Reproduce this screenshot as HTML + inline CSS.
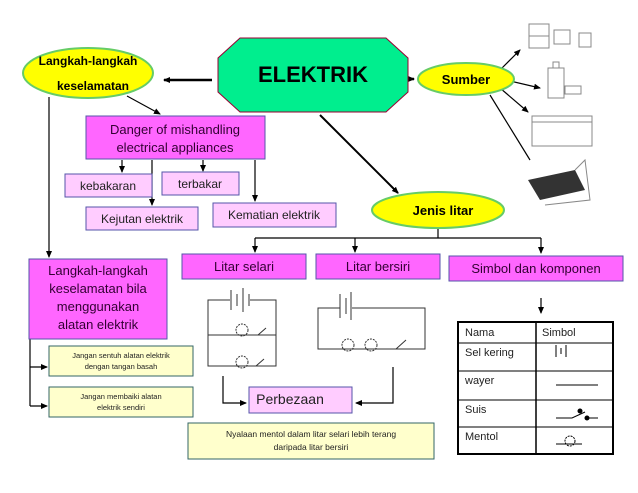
<!DOCTYPE html>
<html><head><meta charset="utf-8"><style>
html,body{margin:0;padding:0;background:#fff}
svg{display:block}
text{font-family:"Liberation Sans",sans-serif}
</style></head><body>
<svg width="638" height="493" viewBox="0 0 638 493" xmlns="http://www.w3.org/2000/svg">
<defs>
<marker id="a" markerWidth="8" markerHeight="8" refX="6" refY="4" orient="auto" markerUnits="userSpaceOnUse"><path d="M0,1 L7,4 L0,7 z" fill="#000"/></marker>
</defs>
<g stroke="#000" stroke-width="1.2" fill="none">
<!-- top arrows -->
<line x1="212" y1="80" x2="164" y2="80" stroke-width="2.5" marker-end="url(#a)"/>
<line x1="408" y1="79" x2="414" y2="79" stroke-width="2.5" marker-end="url(#a)"/>
<line x1="127" y1="96" x2="160" y2="114" marker-end="url(#a)"/>
<line x1="320" y1="115" x2="398" y2="193" stroke-width="2" marker-end="url(#a)"/>
<!-- danger arrows -->
<line x1="122" y1="160" x2="122" y2="172" marker-end="url(#a)"/>
<line x1="152" y1="160" x2="152" y2="205" marker-end="url(#a)"/>
<line x1="203" y1="160" x2="203" y2="171" marker-end="url(#a)"/>
<line x1="255" y1="160" x2="255" y2="201" marker-end="url(#a)"/>
<!-- left line -->
<line x1="49" y1="97" x2="49" y2="257" marker-end="url(#a)"/>
<polyline points="30,339 30,406"/>
<line x1="30" y1="367" x2="47" y2="367" marker-end="url(#a)"/>
<line x1="30" y1="406" x2="47" y2="406" marker-end="url(#a)"/>
<!-- jenis litar -->
<line x1="438" y1="228" x2="438" y2="238"/>
<line x1="255" y1="238" x2="541" y2="238"/>
<line x1="255" y1="238" x2="255" y2="252" marker-end="url(#a)"/>
<line x1="355" y1="238" x2="355" y2="252" marker-end="url(#a)"/>
<line x1="541" y1="238" x2="541" y2="253" marker-end="url(#a)"/>
<line x1="541" y1="298" x2="541" y2="313" marker-end="url(#a)"/>
<!-- perbezaan -->
<polyline points="223,376 223,403 246,403" marker-end="url(#a)"/>
<polyline points="393,367 393,403 356,403" marker-end="url(#a)"/>
<!-- sumber lines -->
<line x1="500" y1="70" x2="520" y2="50" marker-end="url(#a)"/>
<line x1="506" y1="80" x2="540" y2="88" marker-end="url(#a)"/>
<line x1="500" y1="88" x2="528" y2="112" marker-end="url(#a)"/>
<line x1="490" y1="95" x2="530" y2="160"/>
</g>
<!-- ELEKTRIK -->
<polygon points="240,38 386,38 408,58 408,92 386,112 240,112 218,92 218,58" fill="#00ee8e" stroke="#990033" stroke-width="1"/>
<text x="313" y="82" font-size="22" font-weight="bold" text-anchor="middle">ELEKTRIK</text>
<!-- ellipses -->
<ellipse cx="88" cy="73" rx="65" ry="25" fill="#ffff00" stroke="#66cc66" stroke-width="2"/>
<text x="88" y="65" font-size="12" font-weight="bold" text-anchor="middle">Langkah-langkah</text>
<text x="93" y="90" font-size="12" font-weight="bold" text-anchor="middle">keselamatan</text>
<ellipse cx="466" cy="79" rx="48" ry="16" fill="#ffff00" stroke="#66cc66" stroke-width="2"/>
<text x="466" y="84" font-size="13" font-weight="bold" text-anchor="middle">Sumber</text>
<ellipse cx="438" cy="210" rx="66" ry="18" fill="#ffff00" stroke="#66cc66" stroke-width="2"/>
<text x="443" y="215" font-size="13" font-weight="bold" text-anchor="middle">Jenis litar</text>
<!-- magenta boxes -->
<g fill="#ff66ff" stroke="#5555aa" stroke-width="1">
<rect x="86" y="116" width="179" height="43"/>
<rect x="29" y="259" width="138" height="80"/>
<rect x="182" y="254" width="124" height="25"/>
<rect x="316" y="254" width="124" height="25"/>
<rect x="449" y="256" width="174" height="25"/>
</g>
<g font-size="13" fill="#330033" text-anchor="middle">
<text x="175" y="134">Danger of mishandling</text>
<text x="175" y="152">electrical appliances</text>
<text x="98" y="275">Langkah-langkah</text>
<text x="98" y="293">keselamatan bila</text>
<text x="98" y="311">menggunakan</text>
<text x="98" y="329">alatan elektrik</text>
<text x="244" y="271">Litar selari</text>
<text x="378" y="271">Litar bersiri</text>
<text x="536" y="273">Simbol dan komponen</text>
</g>
<!-- light pink -->
<g fill="#ffccff" stroke="#5555aa" stroke-width="1">
<rect x="65" y="174" width="87" height="23"/>
<rect x="162" y="172" width="77" height="23"/>
<rect x="86" y="207" width="112" height="23"/>
<rect x="213" y="203" width="123" height="24"/>
<rect x="249" y="387" width="103" height="26"/>
</g>
<g font-size="12" fill="#222" text-anchor="middle">
<text x="108" y="190">kebakaran</text>
<text x="200" y="188">terbakar</text>
<text x="142" y="223">Kejutan elektrik</text>
<text x="274" y="219">Kematian elektrik</text>
<text x="290" y="404" font-size="14" text-anchor="middle">Perbezaan</text>
</g>
<!-- yellow boxes -->
<g fill="#ffffcc" stroke="#336666" stroke-width="1">
<rect x="49" y="346" width="144" height="30"/>
<rect x="49" y="387" width="144" height="30"/>
<rect x="188" y="423" width="246" height="36"/>
</g>
<g font-size="7.5" fill="#222" text-anchor="middle">
<text x="121" y="358">Jangan sentuh alatan elektrik</text>
<text x="121" y="369">dengan tangan basah</text>
<text x="121" y="399">Jangan membaiki alatan</text>
<text x="121" y="410">elektrik sendiri</text>
<text x="311" y="437" font-size="8.5">Nyalaan mentol dalam litar selari lebih terang</text>
<text x="311" y="450" font-size="8.5">daripada litar bersiri</text>
</g>
<!-- circuits -->
<g stroke="#333" stroke-width="1" fill="none">
<polyline points="230,300 208,300 208,366 276,366 276,300 250,300"/>
<line x1="231" y1="290" x2="231" y2="310"/><line x1="237" y1="294" x2="237" y2="306"/>
<line x1="243" y1="288" x2="243" y2="312"/><line x1="249" y1="294" x2="249" y2="306"/>
<line x1="208" y1="335" x2="276" y2="335"/>
<circle cx="242" cy="330" r="6" stroke-dasharray="2,1"/><circle cx="242" cy="362" r="6" stroke-dasharray="2,1"/>
<line x1="258" y1="335" x2="266" y2="328"/><line x1="256" y1="366" x2="264" y2="359"/>
<polyline points="340,308 318,308 318,349 425,349 425,308 352,308"/>
<line x1="340" y1="294" x2="340" y2="318"/><line x1="346" y1="298" x2="346" y2="314"/>
<line x1="351" y1="292" x2="351" y2="320"/>
<circle cx="348" cy="345" r="6" stroke-dasharray="2,1"/><circle cx="371" cy="345" r="6" stroke-dasharray="2,1"/>
<line x1="396" y1="349" x2="406" y2="340"/>
</g>
<!-- table -->
<g stroke="#000" fill="none">
<rect x="458" y="322" width="155" height="132" stroke-width="2"/>
<line x1="536" y1="322" x2="536" y2="454" stroke-width="1.5"/>
<line x1="458" y1="343" x2="613" y2="343"/>
<line x1="458" y1="371" x2="613" y2="371"/>
<line x1="458" y1="400" x2="613" y2="400"/>
<line x1="458" y1="427" x2="613" y2="427"/>
<line x1="556" y1="345" x2="556" y2="357"/><line x1="561" y1="348" x2="561" y2="354"/><line x1="566" y1="345" x2="566" y2="357"/>
<line x1="556" y1="385" x2="598" y2="385"/>
<polyline points="556,418 572,418 585,412"/><circle cx="580" cy="411" r="2" fill="#000"/><circle cx="587" cy="418" r="2" fill="#000"/><line x1="587" y1="418" x2="598" y2="418"/>
<circle cx="570" cy="441" r="5" stroke-dasharray="2,1"/><line x1="556" y1="444" x2="582" y2="444"/>
</g>
<g font-size="11" fill="#222">
<text x="465" y="336">Nama</text><text x="542" y="336">Simbol</text>
<text x="465" y="356">Sel kering</text><text x="465" y="384">wayer</text>
<text x="465" y="413">Suis</text><text x="465" y="440">Mentol</text>
</g>
<!-- source images -->
<g stroke="#888" fill="#fff" stroke-width="1">
<rect x="529" y="24" width="20" height="24"/><line x1="529" y1="36" x2="549" y2="36"/>
<rect x="554" y="30" width="16" height="14"/><rect x="579" y="33" width="12" height="14"/>
<rect x="548" y="68" width="16" height="30"/><rect x="553" y="62" width="6" height="6"/>
<rect x="565" y="86" width="16" height="8"/>
<rect x="532" y="116" width="60" height="30"/><line x1="532" y1="122" x2="592" y2="122"/>
</g>
<g fill="#333"><polygon points="528,180 575,170 585,190 540,200"/></g>
<g stroke="#888" fill="none"><polyline points="575,170 585,160 590,200 545,205"/></g>
</svg>
</body></html>
